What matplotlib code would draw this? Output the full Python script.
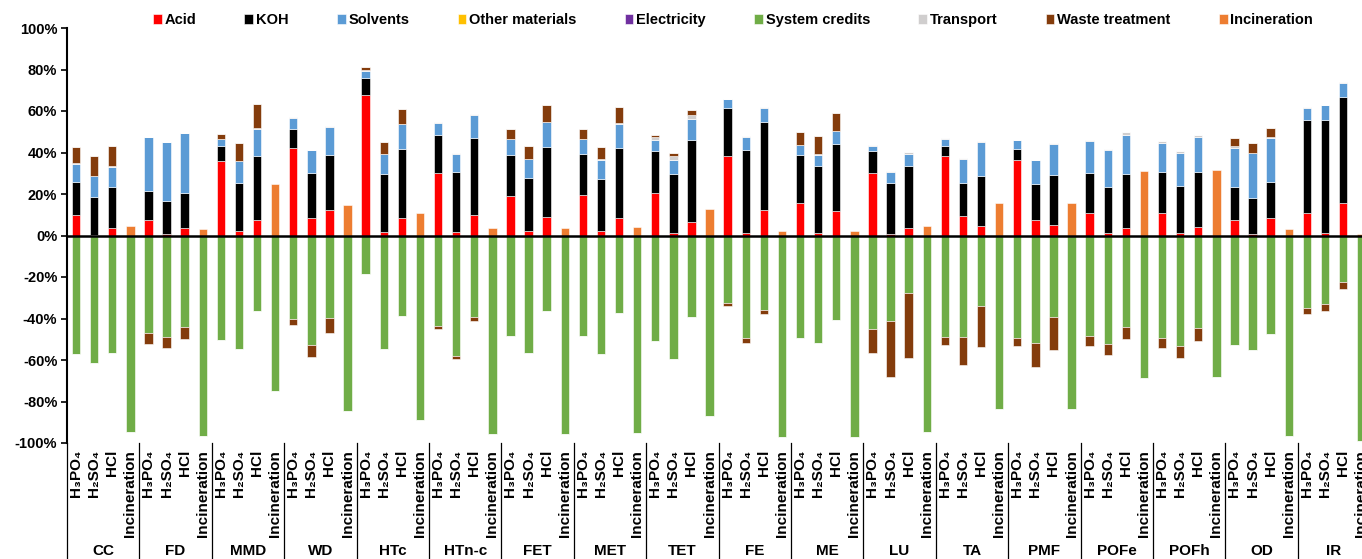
import numpy as np
import matplotlib
matplotlib.use('Agg')
from matplotlib import pyplot as plt
from matplotlib.transforms import blended_transform_factory

plt.rcParams['font.family'] = ['Liberation Sans', 'DejaVu Sans']
plt.rcParams['font.weight'] = 'bold'
plt.rcParams['axes.unicode_minus'] = False

groups = ['CC', 'FD', 'MMD', 'WD', 'HTc', 'HTn-c', 'FET', 'MET', 'TET',
          'FE', 'ME', 'LU', 'TA', 'PMF', 'POFe', 'POFh', 'OD', 'IR']
bar_labels = ['H₃PO₄', 'H₂SO₄', 'HCl', 'Incineration']

# values in %, 4 bars per group: H3PO4, H2SO4, HCl, Incineration
acid = [10.0, 0.3, 3.5, 0,   7.4, 0.8, 3.5, 0,   35.8, 2.1, 7.7, 0,   42.4, 8.6, 12.3, 0,
        67.5, 1.6, 8.3, 0,   29.9, 1.9, 9.9, 0,  18.9, 2.2, 9.0, 0,   19.7, 2.2, 8.5, 0,
        20.5, 1.4, 6.6, 0,   38.4, 1.3, 12.3, 0, 15.8, 1.0, 12.0, 0,  30.2, 0.5, 3.8, 0,
        38.4, 9.3, 4.8, 0,   36.3, 7.5, 5.1, 0,  10.7, 1.0, 3.8, 0,   10.7, 1.0, 4.0, 0,
        7.7, 0.5, 8.2, 0,    10.7, 1.0, 15.8, 0]
koh = [15.8, 18.4, 19.7, 0,  14.2, 16.0, 16.8, 0,  7.1, 23.3, 30.5, 0,  9.1, 21.3, 26.6, 0,
       8.5, 27.8, 33.6, 0,   18.7, 28.8, 37.3, 0,  20.0, 25.3, 33.7, 0, 19.5, 25.2, 33.7, 0,
       20.0, 28.0, 39.2, 0,  23.2, 39.7, 42.6, 0,  23.2, 32.3, 32.3, 0, 10.3, 24.9, 29.8, 0,
       4.8, 16.1, 24.0, 0,   5.6, 17.5, 24.2, 0,   19.4, 22.4, 26.0, 0, 19.9, 23.0, 26.4, 0,
       15.5, 17.6, 17.6, 0,  45.1, 54.7, 51.1, 0]
solvents = [8.6, 9.9, 9.8, 0,   25.8, 28.2, 29.0, 0,  3.5, 10.4, 13.3, 0,  5.1, 11.1, 13.6, 0,
            3.4, 9.8, 11.7, 0,  5.8, 8.8, 10.7, 0,    7.5, 9.3, 11.9, 0,   7.2, 9.2, 11.7, 0,
            5.6, 7.2, 10.2, 0,  4.0, 6.5, 6.7, 0,     4.5, 5.6, 5.9, 0,    2.4, 5.0, 5.9, 0,
            3.5, 11.6, 16.5, 0, 3.9, 11.2, 15.0, 0,   15.3, 17.6, 18.8, 0, 13.9, 16.0, 17.3, 0,
            19.2, 21.6, 21.1, 0, 5.8, 7.0, 6.4, 0]
other_materials = [0] * 72
electricity = [0] * 72
transport = [0.3, 0.3, 0.3, 0,  0.3, 0.3, 0.3, 0,  0.3, 0.3, 0.3, 0,  0.4, 0.3, 0.4, 0,
             0.3, 0.3, 0.3, 0,  0.3, 0.3, 0.5, 0,  0.3, 0.3, 0.3, 0,  0.3, 0.3, 0.3, 0,
             1.6, 1.6, 2.1, 0,  0.3, 0.3, 0.3, 0,  0.3, 0.3, 0.3, 0,  0.5, 0.6, 0.7, 0,
             0.3, 0.4, 0.3, 0,  0.4, 0.4, 0.3, 0,  0.8, 0.8, 1.2, 0,  0.9, 0.8, 0.9, 0,
             0.5, 0.3, 0.6, 0,  0.3, 0.3, 0.6, 0]
waste_pos = [8.0, 9.5, 9.9, 0,  0, 0, 0, 0,        2.1, 8.5, 11.4, 0,  0, 0, 0, 0,
             1.4, 5.6, 7.1, 0,  0, 0, 0, 0,        4.7, 5.9, 8.1, 0,   4.5, 5.8, 7.7, 0,
             0.9, 1.6, 2.4, 0,  0, 0, 0, 0,        6.3, 8.6, 8.4, 0,   0, 0, 0, 0,
             0, 0, 0, 0,        0, 0, 0, 0,        0, 0, 0, 0,         0, 0, 0, 0,
             4.1, 4.5, 4.5, 0,  0, 0, 0, 0]
incineration = [0, 0, 0, 4.5,  0, 0, 0, 2.9,  0, 0, 0, 24.8,  0, 0, 0, 14.7,
                0, 0, 0, 10.7, 0, 0, 0, 3.8,  0, 0, 0, 3.8,   0, 0, 0, 4.3,
                0, 0, 0, 12.8, 0, 0, 0, 2.4,  0, 0, 0, 2.4,   0, 0, 0, 4.6,
                0, 0, 0, 15.7, 0, 0, 0, 15.7, 0, 0, 0, 30.9,  0, 0, 0, 31.5,
                0, 0, 0, 2.9,  0, 0, 0, 0.8]
system_credits = [-57.0, -61.3, -56.5, -94.9,  -47.2, -48.8, -44.3, -96.8,
                  -50.6, -54.9, -36.5, -74.7,  -40.2, -52.8, -39.7, -84.8,
                  -18.6, -54.7, -39.0, -89.0,  -43.7, -58.0, -39.2, -95.5,
                  -48.2, -56.5, -36.5, -95.5,  -48.5, -57.0, -37.4, -95.0,
                  -50.9, -59.7, -39.2, -86.9,  -32.5, -49.6, -35.7, -97.3,
                  -49.4, -51.7, -40.6, -97.3,  -45.0, -41.4, -27.7, -94.9,
                  -48.8, -48.8, -34.2, -83.8,  -49.6, -51.8, -39.5, -83.7,
                  -48.6, -52.3, -44.0, -68.6,  -49.3, -53.1, -44.8, -68.2,
                  -52.6, -55.0, -47.5, -96.6,  -34.9, -32.8, -22.6, -99.0]
waste_neg = [0, 0, 0, 0,            -5.1, -5.4, -5.8, 0,    0, 0, 0, 0,
             -2.8, -5.8, -7.3, 0,   0, 0, 0, 0,             -1.3, -1.7, -1.9, 0,
             0, 0, 0, 0,            0, 0, 0, 0,             0, 0, 0, 0,
             -1.3, -2.4, -2.2, 0,   0, 0, 0, 0,             -11.5, -26.9, -31.5, 0,
             -4.0, -13.4, -19.7, 0, -3.8, -11.4, -15.5, 0,  -4.7, -5.3, -5.9, 0,
             -4.9, -5.8, -6.1, 0,   0, 0, 0, 0,             -2.7, -3.5, -3.2, 0]

colors = {'Acid': '#FF0000', 'KOH': '#000000', 'Solvents': '#5B9BD5',
          'Other materials': '#FFC000', 'Electricity': '#7030A0',
          'System credits': '#70AD47', 'Transport': '#D0CECE',
          'Waste treatment': '#843C0C', 'Incineration': '#ED7D31'}

fig = plt.figure(figsize=(13.62, 5.59), dpi=100)
ax = fig.add_axes([67 / 1362, 1 - 443 / 559, 1295 / 1362, 415 / 559])

x = np.arange(len(groups) * 4)
w = 0.46
kw = dict(width=w, edgecolor='white', linewidth=0.4)

handles = {}
bottom = np.zeros(len(x))
for name, vals in [('Acid', acid), ('KOH', koh), ('Solvents', solvents),
                   ('Other materials', other_materials), ('Electricity', electricity),
                   ('Transport', transport), ('Waste treatment', waste_pos),
                   ('Incineration', incineration)]:
    vals = np.array(vals, dtype=float)
    handles[name] = ax.bar(x, vals, bottom=bottom, color=colors[name], label=name, **kw)
    bottom += vals

handles['System credits'] = ax.bar(x, system_credits, color=colors['System credits'],
                                   label='System credits', **kw)
ax.bar(x, waste_neg, bottom=system_credits, color=colors['Waste treatment'], **kw)

ax.set_xlim(-0.5, -0.5 + 1295 / 18.1)
ax.set_ylim(-100, 100)
ax.set_yticks(np.arange(-100, 101, 20))
ax.set_yticklabels(['%d%%' % v for v in np.arange(-100, 101, 20)], fontsize=10.5, fontweight='bold')
ax.tick_params(axis='y', direction='out', length=4, width=1.2, pad=3)

ax.set_xticks(x)
ax.set_xticklabels(bar_labels * len(groups), rotation=90, va='top', ha='center',
                   fontsize=11, fontweight='bold')
ax.tick_params(axis='x', length=0, pad=5)

for side in ['top', 'right', 'bottom']:
    ax.spines[side].set_visible(False)
ax.spines['left'].set_linewidth(1.5)
ax.axhline(0, color='black', lw=1.8, zorder=3)

trans = blended_transform_factory(ax.transData, ax.transAxes)
for i in range(len(groups) + 1):
    ax.plot([i * 4 - 0.5, i * 4 - 0.5], [0, -0.29], color='black', lw=0.9,
            transform=trans, clip_on=False)
for i, g in enumerate(groups):
    ax.text(i * 4 + 1.5, -0.26, g, transform=trans, ha='center', va='center',
            fontsize=11, fontweight='bold')

order = ['Acid', 'KOH', 'Solvents', 'Other materials', 'Electricity',
         'System credits', 'Transport', 'Waste treatment', 'Incineration']
fig.legend([handles[k] for k in order], order, loc='center', ncol=9,
           bbox_to_anchor=(733 / 1362, 1 - 20 / 559), frameon=False,
           prop={'size': 10.5, 'weight': 'bold'}, handlelength=0.6, handleheight=0.7,
           handletextpad=0.2, columnspacing=3.3)

fig.savefig('out.png', dpi=100)
